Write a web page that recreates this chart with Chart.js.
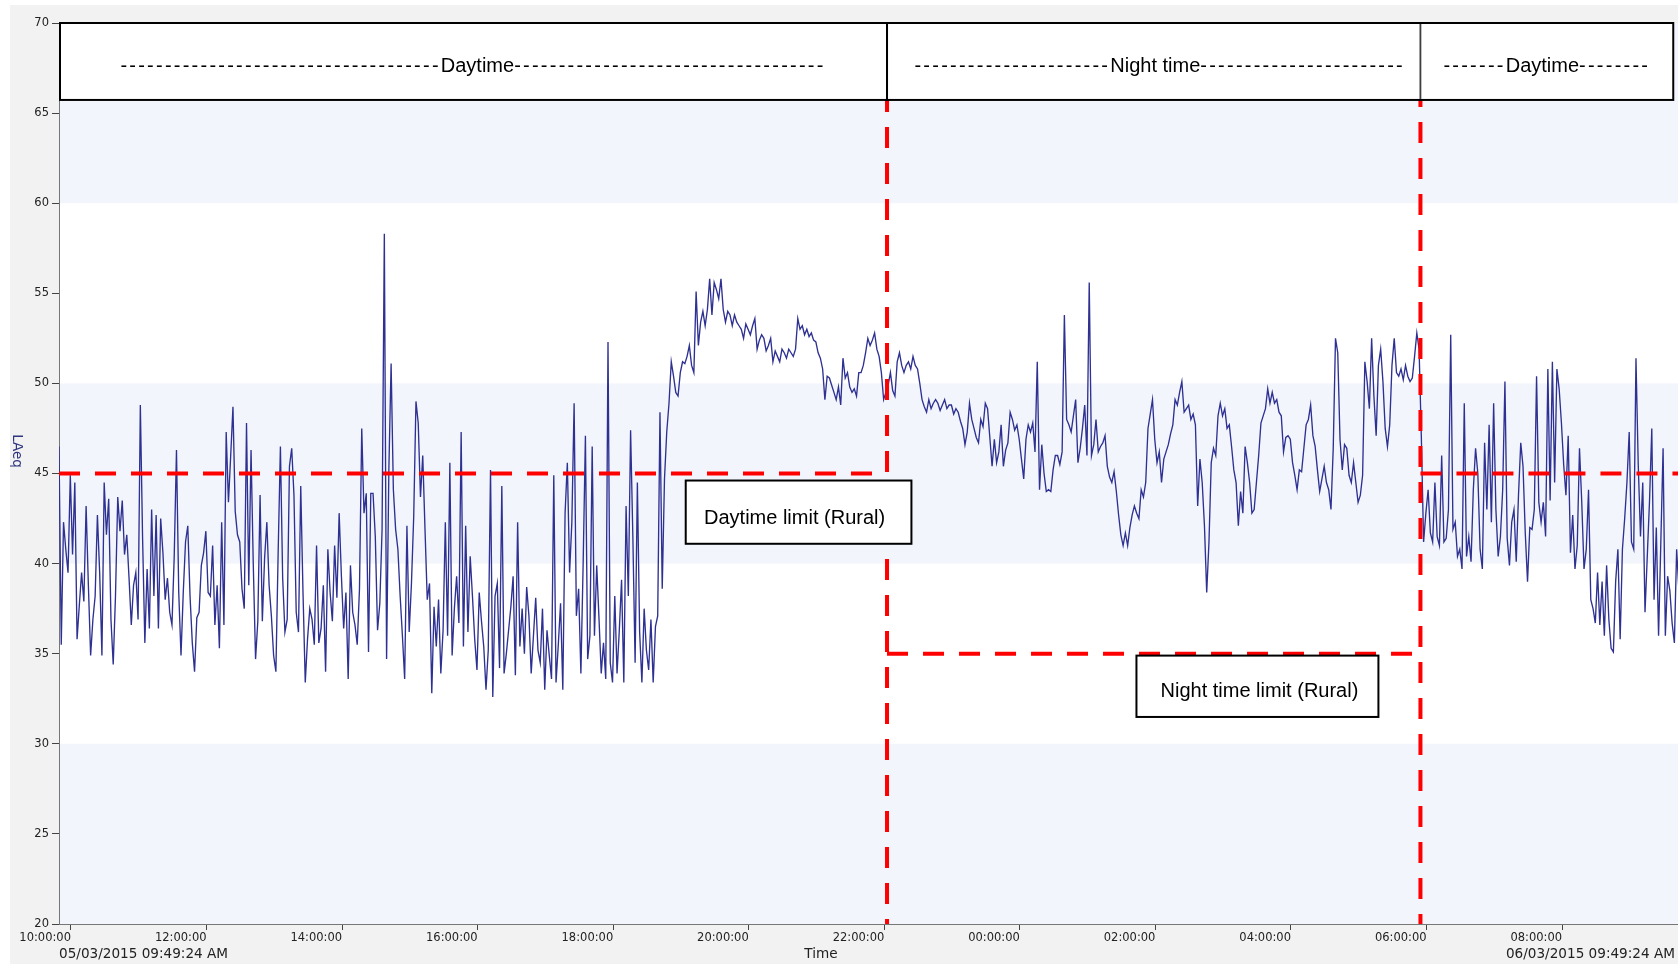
<!DOCTYPE html>
<html>
<head>
<meta charset="utf-8">
<script src="https://cdn.jsdelivr.net/npm/chart.js@4.4.1/dist/chart.umd.min.js"></script>
<style>
  html, body { margin: 0; padding: 0; background: #ffffff; overflow: hidden; }
  #wrap { width: 1678px; height: 964px; position: relative; }
</style>
</head>
<body>
<div id="wrap"><canvas id="c" width="1678" height="964"></canvas></div>
<script>
// ---------------- DATA ----------------
// Logger start 05/03/2015 09:49:24 AM, one LAeq value every 2 minutes (hours on the x axis)
const startTime = 9 + 49 / 60 + 24 / 3600;
const stepMinutes = 2;
const visibleEndTime = 33.71;            // right edge of the visible plot (next day ~09:42)
const startLabel = '05/03/2015 09:49:24 AM';
const endLabel = '06/03/2015 09:49:24 AM';

const laeq = [
  46.5, 35.5, 42.3, 40.8, 39.5, 44.9, 40.5, 44.5, 35.8,
  37.7, 39.5, 37.9, 43.2, 38.8, 34.9, 36.9, 38.2, 42.7,
  39.5, 34.9, 44.5, 41.6, 43.6, 36.9, 34.4, 38.2, 43.7,
  41.8, 43.5, 40.5, 41.6, 39.2, 36.6, 38.8, 39.5, 36.9,
  48.8, 41.4, 35.6, 39.7, 36.4, 43.0, 38.2, 42.7, 36.4,
  42.5, 40.6, 38.0, 39.2, 37.3, 36.6, 40.4, 46.3, 38.4,
  34.9, 38.4, 41.2, 42.1, 38.2, 35.6, 34.0, 37.0, 37.3,
  39.9, 40.6, 41.8, 38.4, 38.2, 41.0, 36.6, 38.8, 35.3,
  42.3, 36.6, 47.3, 43.4, 46.0, 48.7, 42.9, 41.6, 41.2, 38.6,
  37.5, 47.8, 38.8, 46.3, 39.9, 34.7, 36.8, 43.8, 36.8,
  40.3, 42.3, 38.8, 37.1, 34.9, 34.0, 40.6, 46.5, 39.2, 36.2,
  36.9, 45.4, 46.4, 43.8, 37.3, 36.2, 44.3, 38.4, 33.4,
  35.8, 37.5, 36.9, 35.5, 41.0, 35.6, 36.4, 38.8, 34.0, 40.8,
  38.4, 36.8, 41.0, 38.1, 42.8, 39.3, 36.4, 38.4, 33.6,
  39.9, 37.3, 36.6, 35.5, 38.6, 47.5, 42.8, 43.9, 35.1, 43.9,
  43.9, 41.5, 36.3, 37.8, 41.9, 58.3, 34.7, 45.2, 51.1, 44.1, 41.9, 40.8, 38.2, 36.0,
  33.6, 42.1, 36.2, 38.9, 42.6, 49.0, 47.8, 43.7, 46.0, 41.9, 38.0, 38.9,
  32.8, 37.6, 35.4, 38.0, 33.9, 36.3, 42.3, 36.0, 45.6, 34.9, 37.5,
  39.3, 36.7, 47.3, 35.4, 42.1, 36.2, 40.4, 38.2, 35.8, 34.1, 38.4, 36.8,
  35.4, 33.0, 35.2, 45.2, 32.6, 38.2, 38.9, 34.2, 44.3, 33.9, 35.0,
  36.3, 37.6, 39.3, 33.8, 42.3, 35.4, 37.5, 35.0, 38.7, 37.1, 33.9, 36.0,
  38.1, 35.2, 34.5, 37.5, 33.0, 36.3, 34.9, 33.6, 44.9, 33.4, 35.5,
  37.8, 33.0, 42.8, 45.6, 39.5, 42.3, 48.9, 37.1, 38.6, 33.9, 40.0,
  47.1, 34.7, 36.0, 46.5, 36.0, 39.9, 37.0,
  33.9, 35.6, 33.6, 52.3, 34.5, 33.4, 38.2, 33.9, 36.3, 39.1, 33.4, 43.2, 38.2, 47.4, 41.5, 34.5, 44.5, 36.2, 33.4, 37.5, 35.2,
  34.1, 36.9, 33.4, 36.5, 37.1, 48.4, 38.6, 44.7, 47.3, 48.9, 51.2, 50.4, 49.5, 49.3, 50.6, 51.2, 51.1,
  51.5, 52.1, 51.0, 50.6, 55.1, 52.1, 53.4, 54.0, 53.2, 54.1,
  55.8, 53.8, 55.6, 55.2, 54.7, 55.8, 54.1, 53.4, 54.0, 53.8,
  53.2, 53.8, 53.4, 53.2, 53.0, 52.5, 53.3, 53.0, 52.7, 53.2,
  53.6, 51.9, 52.4, 52.7, 52.5, 51.8, 52.1, 52.5, 51.2, 51.8,
  51.5, 51.2, 51.9, 51.7, 51.4, 51.9, 51.7, 51.5, 51.9, 53.6,
  53.0, 53.2, 52.7, 53.0, 52.6, 52.8, 52.4, 52.3, 51.7, 51.4,
  50.8, 49.1, 50.4, 50.3, 49.9, 49.5, 49.1, 49.8, 48.8, 51.4,
  50.3, 50.6, 49.8, 49.5, 49.7, 49.3, 50.6, 50.6, 51.0, 51.7,
  52.5, 52.1, 52.4, 52.8, 51.9, 51.5, 50.6, 49.1, 49.5, 49.9,
  50.6, 49.6, 49.3, 51.2, 51.7, 51.0, 50.6, 51.0, 51.2, 50.8,
  51.5, 51.0, 50.8, 50.0, 49.1, 48.7, 48.4, 49.1, 48.6, 48.9,
  49.1, 48.9, 48.5, 48.8, 49.1, 48.6, 48.8, 48.8, 48.3, 48.6,
  48.4, 47.9, 47.5, 46.6, 47.3, 48.9, 48.0, 47.5, 47.0, 46.7,
  48.0, 47.6, 48.9, 48.6, 47.0, 45.4, 46.9, 45.6, 46.2, 47.7,
  45.4, 46.3, 46.7, 48.4, 48.0, 47.4, 47.7, 46.9, 45.8, 44.7,
  46.9, 47.7, 47.3, 47.8, 46.2, 51.2, 44.1, 46.6, 45.0, 44.0,
  44.1, 44.0, 45.2, 46.0, 46.0, 45.5, 46.2, 53.8, 48.0, 47.7,
  47.3, 48.2, 49.1, 45.6, 46.4, 47.5, 48.8, 46.0, 55.6, 46.0,
  46.6, 48.0, 46.2, 46.5, 46.7, 47.1, 45.4, 44.8, 44.5, 45.1,
  44.0, 42.7, 41.6, 41.0, 41.7, 41.0, 42.0, 42.7, 43.2, 42.8,
  42.5, 44.1, 43.7, 44.5, 47.5, 48.3, 49.1, 46.9, 45.6, 46.2,
  44.5, 45.8, 46.2, 46.6, 47.2, 47.7, 49.1, 48.8, 49.5, 50.1,
  48.4, 48.6, 48.8, 48.0, 48.3, 47.7, 43.2,
  45.8, 44.5, 42.1, 38.4, 41.2, 45.6, 46.4, 46.0, 48.2, 48.9,
  48.2, 48.6, 47.5, 47.7, 46.5, 45.2, 44.5, 42.1, 44.0, 42.8,
  46.5, 45.6, 44.5, 42.8, 43.0, 44.5, 46.0, 47.8, 48.2, 48.6,
  49.7, 48.9, 49.5, 48.9, 49.1, 48.4, 48.2, 46.2, 47.0, 47.1,
  46.9, 45.6, 44.9, 44.1, 45.2, 45.1, 46.4, 47.7, 48.0, 48.8,
  47.1, 46.5, 45.2, 44.0, 44.7, 45.4, 44.5, 44.1, 43.0, 46.4,
  52.5, 51.7, 46.9, 45.2, 46.6, 46.4, 44.9, 44.5, 45.6, 44.5,
  43.4, 43.8, 44.9, 51.2, 50.1, 48.6, 52.5, 49.3, 47.1, 51.0,
  51.9, 50.1, 47.5, 46.5, 47.7, 51.0, 52.5, 50.6, 50.4, 50.8,
  50.2, 51.0, 50.4, 50.1, 50.3, 51.5, 52.8, 51.9, 47.0, 41.2,
  42.8, 44.1, 41.7, 41.2, 44.5, 41.5, 41.0, 46.0, 41.2, 41.4,
  43.0, 52.7, 41.9, 42.3, 40.4, 40.8, 39.7, 48.9, 40.4, 41.5,
  40.1, 44.1, 46.4, 45.0, 40.8, 39.7, 46.7, 43.0, 47.7, 42.3,
  48.9, 43.0, 40.4, 41.5, 44.1, 50.1, 41.4, 39.9, 42.3, 43.0,
  40.1, 43.8, 46.7, 45.4, 41.7, 39.0, 42.0, 41.9, 43.0, 50.4,
  43.4, 42.3, 43.4, 41.5, 50.8, 43.5, 51.2, 44.5, 50.8, 49.7,
  47.8, 45.5, 43.8, 47.1, 40.6, 42.7, 39.7, 41.0, 46.4, 43.4,
  39.7, 40.8, 44.1, 38.0, 37.5, 36.7, 39.5, 36.6, 39.0, 36.0,
  39.9, 36.9, 35.3, 35.1, 39.0, 40.8, 35.8, 40.8, 42.5, 44.5,
  47.3, 41.2, 40.8, 51.4, 45.5, 41.5, 44.5, 37.3, 40.4, 43.5,
  47.5, 38.0, 42.0, 36.0, 41.2, 46.4, 36.0, 39.3, 38.5, 36.7,
  35.6, 40.8, 38.5
];

const yTicks = [20, 25, 30, 35, 40, 45, 50, 55, 60, 65, 70];
const xTickHours = [10, 12, 14, 16, 18, 20, 22, 24, 26, 28, 30, 32];
const shadedBands = [[20, 30], [40, 50], [60, 70]];

// Limits and period boundaries (as annotated on the original)
const daytimeLimit = 45;
const nightLimit = 35;
const nightStart = 22.04;
const nightEnd = 29.91;
const headerBottom = 65.73;
const headerRightEnd = 33.64;
const periodNames = ['Daytime', 'Night time', 'Daytime'];
const periodDashes = [[36, 35], [22, 23], [7, 8]];
const limitLabels = ['Daytime limit (Rural)', 'Night time limit (Rural)'];
const dayLimitBox = [19.07, 22.40, 44.61, 41.10];   // x1, x2, yTop, yBottom
const nightLimitBox = [25.72, 29.29, 34.95, 31.49];

// ---------------- CHART ----------------
const points = laeq.map((v, i) => ({ x: startTime + i * stepMinutes / 60, y: v }));
const tickFont = { family: '"DejaVu Sans", Verdana, sans-serif', size: 11.5 };
const pad2 = n => String(n).padStart(2, '0');

const overlay = {
  id: 'overlay',
  beforeDraw(chart) {
    const { ctx, chartArea: a, scales: { y } } = chart;
    ctx.save();
    ctx.fillStyle = '#ffffff';
    ctx.fillRect(0, 0, chart.width, chart.height);
    ctx.fillStyle = '#f2f2f2';
    ctx.fillRect(10, 5, chart.width - 10, chart.height - 5);
    ctx.fillStyle = '#ffffff';
    ctx.fillRect(a.left, a.top, a.right - a.left, a.bottom - a.top);
    ctx.fillStyle = '#f2f6fc';
    shadedBands.forEach(([lo, hi]) => {
      const y1 = y.getPixelForValue(hi), y2 = y.getPixelForValue(lo);
      ctx.fillRect(a.left, y1, a.right - a.left, y2 - y1);
    });
    ctx.restore();
  },
  afterDraw(chart) {
    const { ctx, chartArea: a, scales: { x, y } } = chart;
    const X = v => x.getPixelForValue(v), Y = v => y.getPixelForValue(v);
    ctx.save();
    ctx.beginPath();
    ctx.rect(a.left, a.top, a.right - a.left, a.bottom - a.top + 1);
    ctx.clip();

    // red dashed limit lines
    ctx.strokeStyle = '#ff0000';
    ctx.lineWidth = 4;
    ctx.lineCap = 'butt';
    const seg = (x1, y1, x2, y2, off) => {
      ctx.setLineDash([21, 15]);
      ctx.lineDashOffset = off || 0;
      ctx.beginPath(); ctx.moveTo(x1, y1); ctx.lineTo(x2, y2); ctx.stroke();
    };
    seg(X(startTime), Y(daytimeLimit), X(nightStart), Y(daytimeLimit), 0);
    seg(X(nightStart), Y(nightLimit), X(nightEnd), Y(nightLimit), 0);
    seg(X(nightEnd), Y(daytimeLimit), a.right, Y(daytimeLimit), 0);
    seg(X(nightStart), Y(headerBottom), X(nightStart), Y(20), 9);
    seg(X(nightEnd), Y(headerBottom), X(nightEnd), Y(20), 14);
    ctx.setLineDash([]);

    // boxes
    const box = (x1, y1, x2, y2, lw) => {
      ctx.fillStyle = '#ffffff';
      ctx.fillRect(x1, y1, x2 - x1, y2 - y1);
      ctx.strokeStyle = '#000000';
      ctx.lineWidth = lw || 2;
      ctx.strokeRect(x1, y1, x2 - x1, y2 - y1);
    };
    const boxFont = '20px "Liberation Sans", Arial, sans-serif';
    ctx.font = boxFont;
    ctx.fillStyle = '#000';
    ctx.textBaseline = 'middle';

    // limit label boxes
    box(X(dayLimitBox[0]), Y(dayLimitBox[2]), X(dayLimitBox[1]), Y(dayLimitBox[3]));
    box(X(nightLimitBox[0]), Y(nightLimitBox[2]) + 1, X(nightLimitBox[1]), Y(nightLimitBox[3]));
    ctx.fillStyle = '#000';
    ctx.textAlign = 'center';
    ctx.fillText(limitLabels[0], (X(dayLimitBox[0]) + X(dayLimitBox[1])) / 2 - 4, (Y(dayLimitBox[2]) + Y(dayLimitBox[3])) / 2 + 6);
    ctx.fillText(limitLabels[1], (X(nightLimitBox[0]) + X(nightLimitBox[1])) / 2 + 2, (Y(nightLimitBox[2]) + Y(nightLimitBox[3])) / 2 + 6);
    ctx.restore();

    // period header boxes
    ctx.save();
    const bounds = [startTime, nightStart, nightEnd, headerRightEnd];
    const top = Y(70), bot = Y(headerBottom);
    box(X(bounds[0]) + 1, top, X(bounds[1]), bot, 2);
    box(X(bounds[1]), top, X(bounds[2]), bot, 2);
    box(X(bounds[2]), top, X(bounds[3]), bot, 2);
    // thinner separator between the night and second daytime box
    ctx.fillStyle = '#ffffff';
    ctx.fillRect(X(bounds[2]) - 1, top + 1, 2, bot - top - 2);
    ctx.fillStyle = '#333';
    ctx.fillRect(X(bounds[2]) - 0.5, top + 1, 1, bot - top - 2);

    ctx.font = boxFont;
    ctx.fillStyle = '#000';
    ctx.textBaseline = 'middle';
    const dashAdvance = 8.9;
    const hyph = ctx.measureText('-').width;
    for (let k = 0; k < 3; k++) {
      const x1 = X(bounds[k]), x2 = X(bounds[k + 1]);
      const cx = (x1 + x2) / 2 + (k === 1 ? 6 : 0);
      const cy = (top + bot) / 2 + 5;
      const word = periodNames[k];
      const [nl, nr] = periodDashes[k];
      ctx.letterSpacing = '0px';
      const ww = ctx.measureText(word).width;
      const total = (nl + nr) * dashAdvance + ww;
      let sx = cx - total / 2;
      ctx.textAlign = 'left';
      const drawDashes = (n, xs) => {
        if ('letterSpacing' in ctx) {
          ctx.letterSpacing = (dashAdvance - hyph) + 'px';
          ctx.fillText('-'.repeat(n), xs, cy);
          ctx.letterSpacing = '0px';
        } else {
          for (let j = 0; j < n; j++) ctx.fillText('-', xs + j * dashAdvance, cy);
        }
      };
      drawDashes(nl, sx);
      sx += nl * dashAdvance;
      ctx.fillText(word, sx, cy);
      sx += ww;
      drawDashes(nr, sx);
    }
    ctx.restore();

    // axis texts
    ctx.save();
    ctx.fillStyle = '#222';
    ctx.font = '13.6px "DejaVu Sans", Verdana, sans-serif';
    ctx.textBaseline = 'middle';
    ctx.textAlign = 'left';
    ctx.fillText(startLabel, a.left, 954);
    ctx.textAlign = 'right';
    ctx.fillText(endLabel, 1675, 954);
    ctx.textAlign = 'center';
    ctx.fillText('Time', 821, 954);
    // y axis title (rotated clockwise)
    ctx.translate(16, 451);
    ctx.rotate(Math.PI / 2);
    ctx.fillStyle = '#2f3680';
    ctx.font = '13.5px "DejaVu Sans", Verdana, sans-serif';
    ctx.fillText('LAeq', 0, 0);
    ctx.restore();
  }
};

new Chart(document.getElementById('c').getContext('2d'), {
  type: 'line',
  data: {
    datasets: [{
      label: 'LAeq',
      data: points,
      borderColor: '#2e3192',
      borderWidth: 1.35,
      pointRadius: 0,
      tension: 0,
      fill: false
    }]
  },
  options: {
    responsive: false,
    animation: false,
    devicePixelRatio: 1,
    layout: { padding: { top: 23, left: 0, right: 0, bottom: 0 } },
    plugins: { legend: { display: false }, tooltip: { enabled: false } },
    scales: {
      x: {
        type: 'linear',
        min: startTime,
        max: visibleEndTime,
        afterBuildTicks: s => { s.ticks = xTickHours.map(v => ({ value: v })); },
        afterFit: s => { s.height = 40; },
        ticks: {
          autoSkip: false, maxRotation: 0, minRotation: 0, align: 'end',
          font: tickFont, color: '#222', padding: 1,
          callback: v => pad2(((v % 24) + 24) % 24) + ':00:00'
        },
        grid: { drawOnChartArea: false, drawTicks: true, tickLength: 6, color: '#444' },
        border: { display: true, color: '#777', width: 1 }
      },
      y: {
        min: 20, max: 70,
        afterBuildTicks: s => { s.ticks = yTicks.map(v => ({ value: v })); },
        afterFit: s => { s.width = 59; },
        ticks: { font: tickFont, color: '#222', padding: 3 },
        grid: { drawOnChartArea: false, drawTicks: true, tickLength: 7, color: '#444' },
        border: { display: true, color: '#777', width: 1 }
      }
    }
  },
  plugins: [overlay]
});
</script>
</body>
</html>
